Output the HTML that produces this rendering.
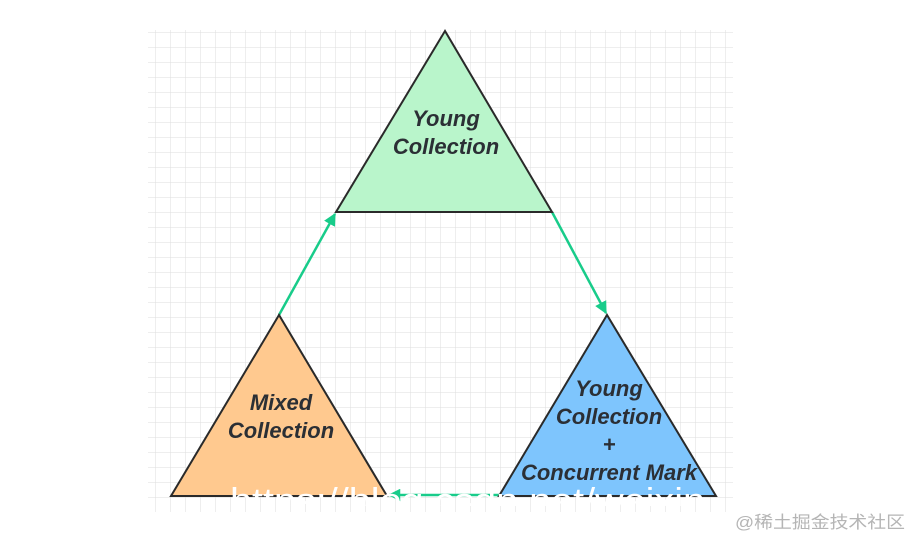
<!DOCTYPE html>
<html><head><meta charset="utf-8"><style>
html,body{margin:0;padding:0;background:#fff;width:913px;height:537px;overflow:hidden}
</style></head><body>
<svg width="913" height="537" viewBox="0 0 913 537" xmlns="http://www.w3.org/2000/svg">
<defs>
<pattern id="g" x="5" y="2" width="15" height="15" patternUnits="userSpaceOnUse">
<path d="M0 0H15M0 0V15" stroke="#dedede" stroke-width="1" fill="none"/>
</pattern>
<marker id="a" viewBox="0 0 10 10" refX="9" refY="5" markerWidth="5" markerHeight="5" orient="auto"><path d="M0 0L10 5L0 10z" fill="#18cc8a"/></marker>
<clipPath id="c"><rect x="0" y="0" width="913" height="506"/></clipPath>
</defs>
<rect x="148" y="30" width="585" height="482" fill="url(#g)"/>
<g stroke="#18cc8a" stroke-width="2.5" fill="none">
<line x1="279" y1="315" x2="335" y2="214" marker-end="url(#a)"/>
<line x1="552" y1="212" x2="606" y2="313" marker-end="url(#a)"/>
<line x1="499" y1="495" x2="389" y2="495" marker-end="url(#a)"/>
</g>
<g stroke="#2a2a2a" stroke-width="2" stroke-linejoin="miter">
<polygon points="445,31 336,212 552,212" fill="#b9f5cb"/>
<polygon points="279,315 171,496 387,496" fill="#ffc98f"/>
<polygon points="607,315 499,496 716,496" fill="#7ec5fd"/>
</g>
<g font-family="Liberation Sans, sans-serif" font-weight="bold" font-style="italic" font-size="22" fill="#2b2f35" text-anchor="middle">
<text x="446" y="126">Young</text><text x="446" y="154">Collection</text>
<text x="281" y="410">Mixed</text><text x="281" y="438">Collection</text>
<text x="609" y="396">Young</text><text x="609" y="424">Collection</text>
<text x="609" y="452">+</text><text x="609" y="480">Concurrent Mark</text>
</g>
<text x="230" y="512" clip-path="url(#c)" font-family="Liberation Sans, sans-serif" font-size="34" fill="#fff" textLength="475" lengthAdjust="spacingAndGlyphs">https://blog.csdn.net/weixin</text>
<text x="735" y="528" font-family="Liberation Sans, 'Noto Sans CJK SC', sans-serif" font-size="17" fill="#b5b5b5" textLength="170" lengthAdjust="spacingAndGlyphs">@稀土掘金技术社区</text>
</svg>
</body></html>
